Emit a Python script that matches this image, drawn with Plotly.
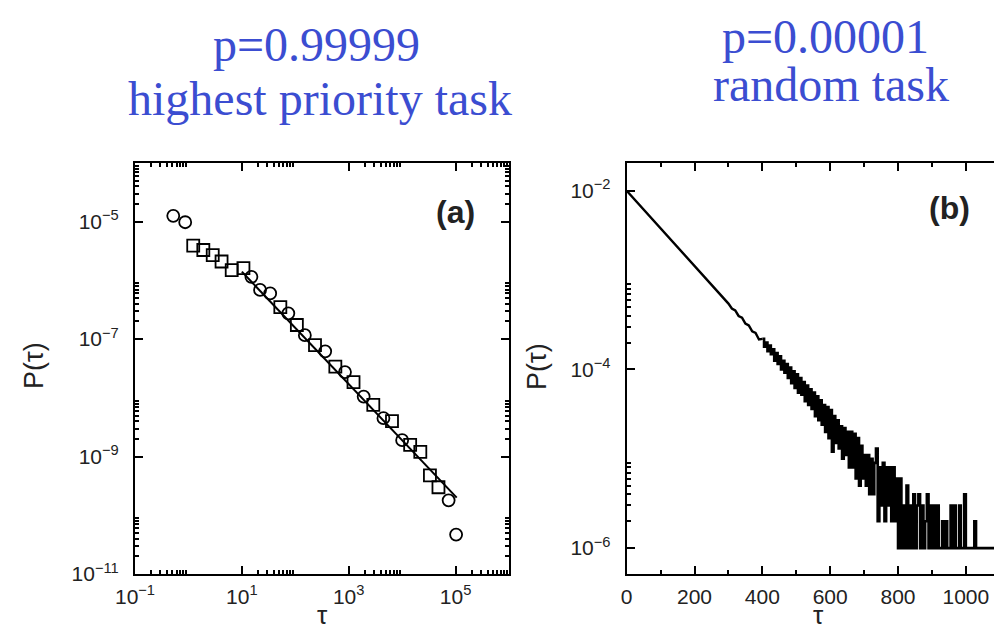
import plotly.graph_objects as go

# ---------------- data: panel (a) ----------------
tau_a = [0.52, 0.87, 1.23, 1.9, 2.85, 4.17, 6.46, 10.7, 15.1, 21.9, 33.9, 52.5, 74.1,
         107, 151, 234, 363, 562, 851, 1230, 1905, 2884, 4467, 6457, 10000, 14125,
         21878, 33113, 47863, 74131, 102329]
p_a = [1.26e-5, 9.8e-6, 3.9e-6, 3.3e-6, 2.7e-6, 2.1e-6, 1.5e-6, 1.62e-6, 1.15e-6,
       6.9e-7, 6.0e-7, 3.5e-7, 2.75e-7, 1.74e-7, 1.17e-7, 7.9e-8, 6.2e-8, 3.4e-8,
       2.75e-8, 1.86e-8, 1.05e-8, 7.6e-9, 4.5e-9, 4.0e-9, 1.9e-9, 1.58e-9, 1.2e-9,
       4.8e-10, 3.0e-10, 1.8e-10, 4.7e-11]
sym_a = ["circle-open", "circle-open", "square-open", "square-open", "square-open",
         "square-open", "square-open", "square-open", "circle-open", "circle-open",
         "circle-open", "square-open", "circle-open", "square-open", "circle-open",
         "square-open", "circle-open", "square-open", "circle-open", "square-open",
         "circle-open", "square-open", "circle-open", "square-open", "circle-open",
         "square-open", "square-open", "square-open", "square-open", "circle-open",
         "circle-open"]
fit_tau_a = [10, 105000]
fit_p_a = [1.41e-6, 2.0e-10]

# ---------------- data: panel (b) ----------------
N_TASKS = 1_000_000
tau_b = [0, 50, 100, 150, 200, 250, 300, 310, 320, 330, 340, 350, 360, 370, 380, 390,
         400, 405, 410, 415, 420, 425, 430, 435, 440, 445, 450, 455, 460, 465, 470, 475,
         480, 485, 490, 495, 500, 505, 510, 515, 520, 525, 530, 535, 540, 545, 550, 555,
         560, 565, 570, 575, 580, 585, 590, 595, 600, 605, 610, 615, 620, 625, 630, 635,
         640, 645, 650, 655, 660, 665, 670, 675, 680, 685, 690, 695, 700, 705, 710, 715,
         720, 725, 730, 735, 740, 745, 750, 755, 760, 765, 770, 775, 780, 785, 790, 795,
         800, 805, 810, 815, 820, 825, 830, 835, 840, 845, 850, 855, 860, 865, 870, 875,
         880, 885, 890, 895, 900, 905, 910, 915, 920, 925, 930, 935, 940, 945, 950, 955,
         960, 965, 970, 975, 980, 985, 990, 995, 1000, 1005, 1010, 1015, 1020, 1025, 1030,
         1035, 1040, 1050, 1060, 1070, 1083]
count_b = [10000, 6150, 3790, 2330, 1430, 880, 545, 480, 458, 396, 380, 326, 310, 266, 256, 216,
           220, 180, 200, 160, 185, 148, 168, 125, 152, 115, 140, 100, 125, 92, 115, 80,
           105, 70, 95, 62, 88, 55, 80, 52, 72, 44, 66, 40, 60, 36, 55, 30,
           50, 27, 45, 24, 40, 20, 38, 17, 35, 12, 30, 15, 27, 13, 23, 10,
           22, 11, 20, 8, 20, 8, 19, 6, 17, 5, 14, 6, 11, 5, 11, 4,
           10, 4, 9, 13, 2, 8, 3, 9, 2, 8, 3, 8, 2, 8, 2, 6,
           1, 6, 1, 3, 1, 5, 1, 3, 1, 4, 1, 3, 4, 1, 3, 1,
           2, 4, 1, 3, 1, 3, 1, 3, 1, 1, 2, 1, 2, 1, 1, 3,
           1, 3, 1, 1, 3, 1, 1, 4, 1, 1, 1, 1, 1, 2, 1,
           1, 1, 1, 1, 1, 1]
p_b = [c / N_TASKS for c in count_b]
NOISY_FROM = 400  # tau where the histogram becomes noisy (drawn as steps)

# ---------------- tick labels ----------------
xa_tickvals = [0.1, 10, 1000, 100000]
xa_ticktext = ["10<sup>−1</sup>", "10<sup>1</sup>", "10<sup>3</sup>", "10<sup>5</sup>"]
ya_tickvals = [1e-11, 1e-9, 1e-7, 1e-5]
ya_ticktext = ["10<sup>−11</sup>", "10<sup>−9</sup>", "10<sup>−7</sup>", "10<sup>−5</sup>"]
xb_tickvals = [0, 200, 400, 600, 800, 1000]
xb_ticktext = ["0", "200", "400", "600", "800", "1000"]
yb_tickvals = [1e-6, 1e-4, 1e-2]
yb_ticktext = ["10<sup>−6</sup>", "10<sup>−4</sup>", "10<sup>−2</sup>"]

titles = [("p=0.99999", 316, 44), ("highest priority task", 320, 99),
          ("p=0.00001", 825, 37), ("random task", 831, 84)]

W, H = 994, 632


def px(x):
    return x / W


def py(y):
    return 1 - y / H


def minor_log(decades, lo, hi):
    vals = []
    for d in decades:
        for k in range(2, 10):
            v = k * 10.0 ** d
            if lo <= v <= hi:
                vals.append(v)
    return vals


split = tau_b.index(NOISY_FROM)

fig = go.Figure()

fig.add_trace(go.Scatter(x=fit_tau_a, y=fit_p_a, mode="lines",
                         line=dict(color="black", width=2), xaxis="x", yaxis="y",
                         showlegend=False))
fig.add_trace(go.Scatter(x=tau_a, y=p_a, mode="markers",
                         marker=dict(symbol=sym_a, size=12, color="black",
                                     line=dict(color="black", width=1.8)),
                         xaxis="x", yaxis="y", showlegend=False))
fig.add_trace(go.Scatter(x=tau_b[:split + 1], y=p_b[:split + 1], mode="lines",
                         line=dict(color="black", width=2.4), xaxis="x2", yaxis="y2",
                         showlegend=False))
fig.add_trace(go.Scatter(x=tau_b[split:], y=p_b[split:], mode="lines",
                         line=dict(color="black", width=2.6, shape="hv"),
                         xaxis="x2", yaxis="y2", showlegend=False))

tickfont = dict(family="Liberation Sans, Arial, sans-serif", size=21, color="#222")
common = dict(ticks="inside", ticklen=8, tickwidth=2, tickcolor="black",
              showline=True, linecolor="black", linewidth=2, showgrid=False,
              zeroline=False, tickfont=tickfont, tickmode="array", automargin=False)
minor_common = dict(tickmode="array", ticks="inside", ticklen=4, tickwidth=1.5,
                    tickcolor="black", showgrid=False)

ydom = [py(574), py(163)]

fig.update_layout(
    width=W, height=H, margin=dict(l=0, r=0, t=0, b=0, autoexpand=False),
    paper_bgcolor="white", plot_bgcolor="white", showlegend=False,
    xaxis=dict(type="log", range=[-1, 6], domain=[px(135), px(509)], anchor="y",
               tickvals=xa_tickvals, ticktext=xa_ticktext, mirror="ticks",
               ticklabelstandoff=3,
               minor=dict(tickvals=minor_log([-1, 1, 3, 5], 0.1, 1e6), **minor_common),
               **common),
    yaxis=dict(type="log", range=[-11, -4], domain=ydom, anchor="x",
               tickvals=ya_tickvals, ticktext=ya_ticktext, mirror="ticks",
               ticklabelstandoff=10,
               minor=dict(tickvals=minor_log([-11, -9, -7, -5], 1e-11, 1e-4), **minor_common),
               **common),
    xaxis2=dict(type="linear", range=[0, 1083], domain=[px(626.7), 1.0], anchor="y2",
                tickvals=xb_tickvals, ticktext=xb_ticktext, mirror="ticks",
                ticklabelstandoff=3,
                minor=dict(tickvals=[100, 300, 500, 700, 900], **minor_common),
                **common),
    yaxis2=dict(type="log", range=[-6.29, -1.69], domain=ydom, anchor="x2",
                tickvals=yb_tickvals, ticktext=yb_ticktext, mirror=False,
                ticklabelstandoff=10,
                minor=dict(tickvals=minor_log([-6, -4, -2], 1e-6, 0.0204), **minor_common),
                **common),
)

ann = []
for text, x, y in titles:
    ann.append(dict(text=text, x=px(x), y=py(y), xref="paper", yref="paper",
                    xanchor="center", yanchor="middle", showarrow=False,
                    font=dict(family="Liberation Serif, Times New Roman, serif",
                              size=48, color="#3b4dd1")))
axis_font = dict(family="Liberation Sans, Arial, sans-serif", size=27, color="#222")
for x, y in [(34, 366), (537, 367)]:
    ann.append(dict(text="P(τ)", x=px(x), y=py(y), xref="paper", yref="paper",
                    xanchor="center", yanchor="middle", showarrow=False, textangle=-90,
                    font=axis_font))
for x, y in [(322, 632), (818, 632)]:
    ann.append(dict(text="τ", x=px(x), y=py(y), xref="paper", yref="paper",
                    xanchor="center", yanchor="bottom", showarrow=False,
                    font=dict(family="Liberation Sans, Arial, sans-serif", size=26,
                              color="#222")))
for text, x, y in [("(a)", 455, 212), ("(b)", 949, 208)]:
    ann.append(dict(text="<b>" + text + "</b>", x=px(x), y=py(y), xref="paper", yref="paper",
                    xanchor="center", yanchor="middle", showarrow=False,
                    font=dict(family="Liberation Sans, Arial, sans-serif", size=32,
                              color="#222")))
fig.update_layout(annotations=ann)

fig.write_html("out.html")
